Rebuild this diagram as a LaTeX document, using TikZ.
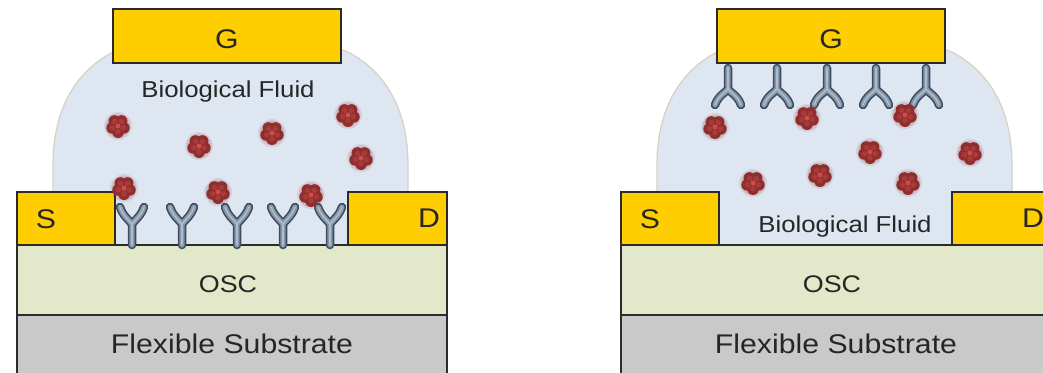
\documentclass[tikz,border=0pt]{standalone}
\usepackage{fontspec}
\setmainfont{Liberation Sans}
\usepackage{graphicx}

\definecolor{gold}{HTML}{FFCE00}
\definecolor{edgec}{HTML}{2B2B2B}
\definecolor{textc}{HTML}{262626}
\definecolor{oscc}{HTML}{E3E8CA}
\definecolor{subc}{HTML}{C9C9C9}
\definecolor{fluidc}{HTML}{DEE6F1}
\definecolor{fluidedge}{HTML}{D6D1C2}
\definecolor{abdark}{HTML}{3D4C5E}
\definecolor{abfill}{HTML}{8597AB}
\definecolor{ablight}{HTML}{AEBCCB}
\definecolor{protc}{HTML}{902E2E}
\definecolor{protlobe}{HTML}{A63B3B}
\definecolor{protmid}{HTML}{D44A46}

% text set in Arial-like face, slightly widened
\newcommand\widelabel[2]{\fontsize{#1}{#1}\selectfont\scalebox{1.12}[1]{#2}}

\tikzset{
  box/.style={draw=edgec, line width=1.4pt, fill=gold},
  layer/.style={draw=edgec, line width=1.4pt},
  lbl/.style={inner sep=0pt, outer sep=0pt, anchor=base, text=textc},
  ab outer/.style={draw=abdark, line width=8.5pt, line cap=round, line join=round},
  ab inner/.style={draw=abfill, line width=5.3pt, line cap=round, line join=round},
  ab shine/.style={draw=ablight, line width=1.6pt, line cap=round, line join=round},
  % upright antibody standing on the semiconductor
  antibody up/.pic={
    \foreach \s in {ab outer, ab inner, ab shine}
      \draw[\s] (0,0) -- (0,-21)
        (-12,-38) .. controls (-9,-29) and (-3,-25) .. (0,-21)
        .. controls (3,-25) and (9,-29) .. (12,-38);
  },
  % antibody hanging from the gate
  antibody down/.pic={
    \foreach \s in {ab outer, ab inner, ab shine}
      \draw[\s] (0,4) -- (0,25)
        (-13,41) .. controls (-10,32) and (-3,29) .. (0,25)
        .. controls (3,29) and (10,32) .. (13,41);
  },
  % target protein with a soft rim
  protein/.pic={
    \fill[protc, opacity=0.10] (0,0) circle (14);
    \fill[protc, opacity=0.15] (0,0) circle (12.5);
    \foreach \a in {90,162,234,306,378}
      \fill[protc] (\a:6.2) circle (5.8);
    \fill[protc] (0,0) circle (6.5);
    \foreach \a in {90,162,234,306,378}
      \fill[protlobe] (\a:5.6) circle (2.8);
    \fill[protmid] (0,0) circle (2.5);
  },
}

% common layer stack: fluid drop, semiconductor, substrate, source, drain, gate
\newcommand\fetstack[2]{%
  \begin{scope}[xshift=#2pt]
    \draw[fill=fluidc, draw=fluidedge, line width=1.2pt]
      (53,245) -- (53,165) .. controls (53,110) and (75,72) .. (113,52)
      .. controls (170,30) and (291,30) .. (348,52)
      .. controls (386,72) and (408,110) .. (408,165) -- (408,245) -- cycle;
    \draw[layer, fill=subc] (17,380) -- (17,315) -- (447,315) -- (447,380);
    \draw[layer, fill=oscc] (17,245) rectangle (447,315);
    \draw[box] (17,192) rectangle (115,245);
    \draw[box] (348,192) rectangle (447,245);
    \draw[box] (113,9) rectangle (341,63);
    \node[lbl] (#1G) at (227,48) {\widelabel{27}{G}};
    \node[lbl] (#1S) at (46,228) {\widelabel{27}{S}};
    \node[lbl] (#1D) at (429,227) {\widelabel{27}{D}};
    \node[lbl] (#1osc) at (228,292) {\widelabel{24}{OSC}};
    \node[lbl] (#1sub) at (232,353) {\widelabel{27}{Flexible Substrate}};
  \end{scope}}

\begin{document}
\begin{tikzpicture}[x=1pt, y=-1pt]
  \useasboundingbox (0,0) rectangle (1043,372);
  \fill[white] (0,0) rectangle (1043,372);
  \begin{scope}
    \clip (0,0) rectangle (1043,372);

    % receptors on the channel
    \fetstack{l}{0}
    \foreach \x in {132,182,237,283,330}
      \pic at (\x,245) {antibody up};
    \node[lbl] (lfluid) at (228,97) {\widelabel{23}{Biological Fluid}};
    \foreach \x/\y in {118/126, 199/146, 272/133, 348/115, 361/158, 124/188, 218/192, 311/195}
      \pic at (\x,\y) {protein};

    % receptors on the gate
    \fetstack{r}{604}
    \foreach \x in {728,777,827,876,926}
      \pic at (\x,64) {antibody down};
    \node[lbl] (rfluid) at (845,232) {\widelabel{23}{Biological Fluid}};
    \foreach \x/\y in {715/127, 807/118, 905/115, 870/152, 970/153, 753/183, 820/175, 908/183}
      \pic at (\x,\y) {protein};
  \end{scope}
\end{tikzpicture}
\end{document}
